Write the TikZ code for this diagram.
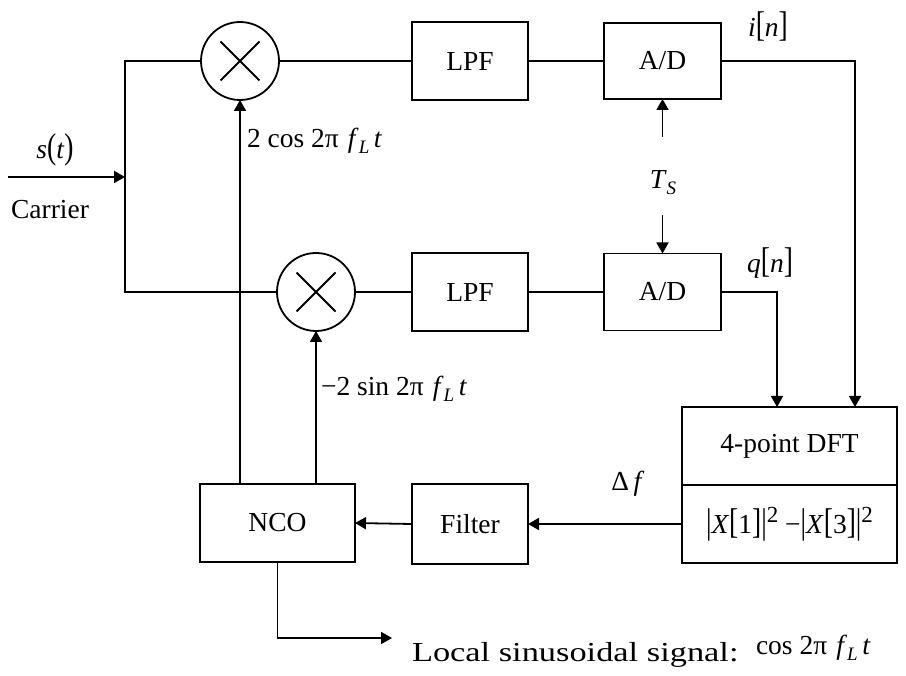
\documentclass[tikz,border=0pt]{standalone}
\usepackage{fontspec}
\setmainfont{Liberation Serif}
\usetikzlibrary{arrows.meta,calc}
\newcommand{\mysub}[1]{\raisebox{-6pt}{\fontsize{19}{19}\selectfont\textit{#1}}}
\newcommand{\mysup}[1]{\raisebox{11pt}{\fontsize{23}{23}\selectfont #1}}
\newcommand{\tall}[1]{\scalebox{1}[1.3]{#1}}
\begin{document}
\begin{tikzpicture}[x=1pt,y=-1pt,
  every node/.style={font=\fontsize{27.5}{32}\selectfont, inner sep=0pt, outer sep=0pt},
  blk/.style={draw, line width=1.8pt, minimum width=116pt, minimum height=78pt},
  mix/.style={draw, circle, line width=1.8pt, minimum size=78pt,
    path picture={\draw[line width=1.8pt] (path picture bounding box.center) +(-19.5,-19.5) -- +(19.5,19.5)
      (path picture bounding box.center) +(-19.5,19.5) -- +(19.5,-19.5);}},
  wire/.style={line width=1.8pt},
  arr/.style={wire, -{Triangle[length=11pt,width=12pt]}}]
\useasboundingbox (0,0) rectangle (906,676);

% mixers
\node[mix] (mixU) at (240,61) {};
\node[mix] (mixL) at (316,292) {};
% blocks
\node[blk] (lpfU) at (470,61) {LPF};
\node[blk] (lpfL) at (470,292) {LPF};
\node[blk, minimum width=117pt, minimum height=76pt] (adU) at (662.5,61) {A/D};
\node[blk, minimum width=117pt, minimum height=77pt] (adL) at (662.5,292) {A/D};
\node[blk, minimum width=215pt, minimum height=78pt] (dftT) at (789.5,446) {4-point DFT};
\node[blk, minimum width=215pt, minimum height=78pt] (dftB) at (789.5,524)
  {\tall{|}\textit{X}\tall{[}1\tall{]}\tall{|}\mysup{2} −\tall{|}\textit{X}\tall{[}3\tall{]}\tall{|}\mysup{2}};
\node[blk, minimum height=80pt] (filt) at (470,524) {Filter};
\node[blk, minimum width=155pt, minimum height=78pt] (nco) at (277.5,523) {NCO};

% coordinates
\coordinate (inS) at (8,177);
\coordinate (J) at (125,177);
\coordinate (tsU) at (662.5,137);
\coordinate (tsD) at (662.5,215);
\coordinate (dI) at (855,407);
\coordinate (dQ) at (777,407);
\coordinate (outE) at (392,638);

% labels
\node (st) at (55,150) {\textit{s}\tall{(}\textit{t}\tall{)}};
\node (car) at (50,210) {Carrier};
\node (ts) at (663,183) {\textit{T}\mysub{S}};
\node (in) at (768,26) {\textit{i}\tall{[}\textit{n}\tall{]}};
\node (qn) at (770,263) {\textit{q}\tall{[}\textit{n}\tall{]}};
\node (df) at (628,484) {Δ\,\textit{f}};
\node[anchor=west] (cosl) at (247,141) {2 cos 2π\,\,\textit{f}\mysub{L}\,\textit{t}};
\node[anchor=west] (sinl) at (321,389) {−2 sin 2π\,\,\textit{f}\mysub{L}\,\textit{t}};
\node[anchor=west] (loc) at (412,655) {\scalebox{1.25}[1]{Local sinusoidal signal:}};
\node[anchor=west] (locm) at (756,648) {cos 2π\,\,\textit{f}\mysub{L}\,\textit{t}};

% connectors
\draw[arr] (inS) -- (J);
\draw[wire] (mixU.west) -| (J) |- (mixL.west);
\draw[wire] (mixU.east) -- (lpfU.west);
\draw[wire] (lpfU.east) -- (adU.west);
\draw[wire] (mixL.east) -- (lpfL.west);
\draw[wire] (lpfL.east) -- (adL.west);
\draw[arr] (tsU) -- (adU.south);
\draw[arr] (tsD) -- (adL.north);
\draw[arr] (adU.east) -| (dI);
\draw[arr] (adL.east) -| (dQ);
\draw[arr] (dftB.west) -- (filt.east);
\draw[arr] (filt.west) -- (nco.east);
\draw[arr] (mixU.south |- nco.north) -- (mixU.south);
\draw[arr] (mixL.south |- nco.north) -- (mixL.south);
\draw[arr] (nco.south) |- (outE);
\end{tikzpicture}
\end{document}
